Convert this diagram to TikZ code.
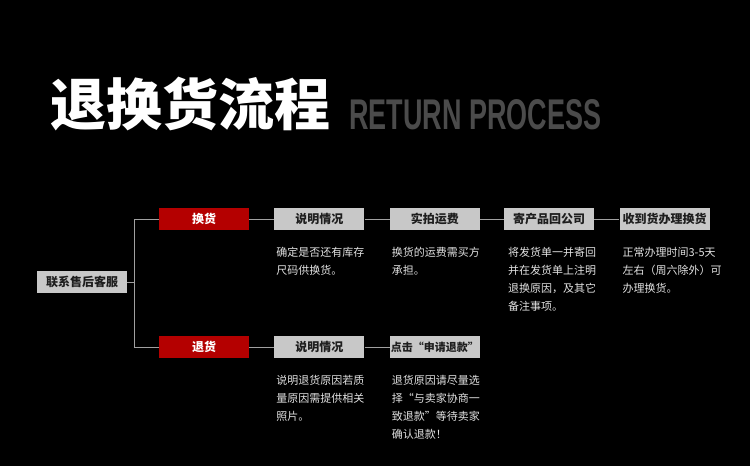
\documentclass[tikz,border=0pt]{standalone}
\usepackage{fontspec}
\setmainfont{Liberation Sans}
\newfontfamily\cjk{Noto Sans CJK SC}
\usetikzlibrary{positioning}
\definecolor{bgblack}{HTML}{000000}
\definecolor{boxgray}{HTML}{C8C8C8}
\definecolor{boxred}{HTML}{B40000}
\definecolor{linegray}{HTML}{A0A0A0}
\definecolor{notegray}{HTML}{E2E2E2}
\definecolor{titlegray}{HTML}{4B4B4B}
\definecolor{inkdark}{HTML}{1E1E1E}

\begin{document}
\begin{tikzpicture}[
  x=1pt, y=1pt,
  graybox/.style={fill=boxgray, text=inkdark, minimum width=90pt, minimum height=22pt,
    inner sep=0pt, font=\cjk\bfseries\fontsize{12}{12}\selectfont},
  redbox/.style={graybox, fill=boxred, text=white},
  link/.style={linegray, line width=0.8pt},
  note/.style={notegray, inner sep=0pt, align=left, anchor=north west,
    font=\cjk\fontsize{11}{18}\selectfont},
  node distance=25pt,
]

% background
\fill[bgblack] (0,0) rectangle (750,466);
\useasboundingbox (0,0) rectangle (750,466);

% ===== title =====
\node[white, anchor=west, inner sep=0pt, font=\cjk\bfseries\fontsize{56}{56}\selectfont]
  (title) at (50,362) {退换货流程};
\node[titlegray, anchor=south west, inner sep=0pt] (subtitle) at (349,336)
  {\resizebox{252pt}{30pt}{\bfseries RETURN PROCESS}};

% ===== start =====
\node[graybox] (service) at (82,184) {联系售后客服};
\coordinate[right=7pt of service] (fork);

% ===== exchange row =====
\node[redbox] (swap) at (204,247) {换货};
\node[graybox, right=of swap] (swapa) {说明情况};
\node[graybox, right=of swapa] (swapb) {实拍运费};
\node[graybox, right=24pt of swapb] (swapc) {寄产品回公司};
\node[graybox, right=of swapc] (swapd) {收到货办理换货};

% ===== refund row =====
\node[redbox] (back) at (204,119) {退货};
\node[graybox, right=of back] (backa) {说明情况};
\node[graybox, right=of backa] (backb) {\resizebox{88pt}{!}{点击“申请退款”}};

% connectors
\draw[link] (service.east) -- (fork);
\draw[link] (swap.west) -- (fork |- swap) -- (fork |- back) -- (back.west);
\draw[link] (swap) -- (swapa) -- (swapb) -- (swapc) -- (swapd);
\draw[link] (back) -- (backa) -- (backb);

% notes
\node[note, below=17pt of swapa.south west, anchor=north west, xshift=2pt] (notea)
  {确定是否还有库存\\尺码供换货。};
\node[note, below=17pt of swapb.south west, anchor=north west, xshift=2pt] (noteb)
  {换货的运费需买方\\承担。};
\node[note, below=17pt of swapc.south west, anchor=north west, xshift=4pt] (notec)
  {将发货单一并寄回\\并在发货单上注明\\退换原因，及其它\\备注事项。};
\node[note, below=17pt of swapd.south west, anchor=north west, xshift=3pt] (noted)
  {正常办理时间3-5天\\左右（周六除外）可\\办理换货。};
\node[note, below=17pt of backa.south west, anchor=north west, xshift=2pt] (notee)
  {说明退货原因若质\\量原因需提供相关\\照片。};
\node[note, below=17pt of backb.south west, anchor=north west, xshift=2pt] (notef)
  {退货原因请尽量选\\择“与卖家协商一\\致退款”等待卖家\\确认退款！};

\end{tikzpicture}
\end{document}
